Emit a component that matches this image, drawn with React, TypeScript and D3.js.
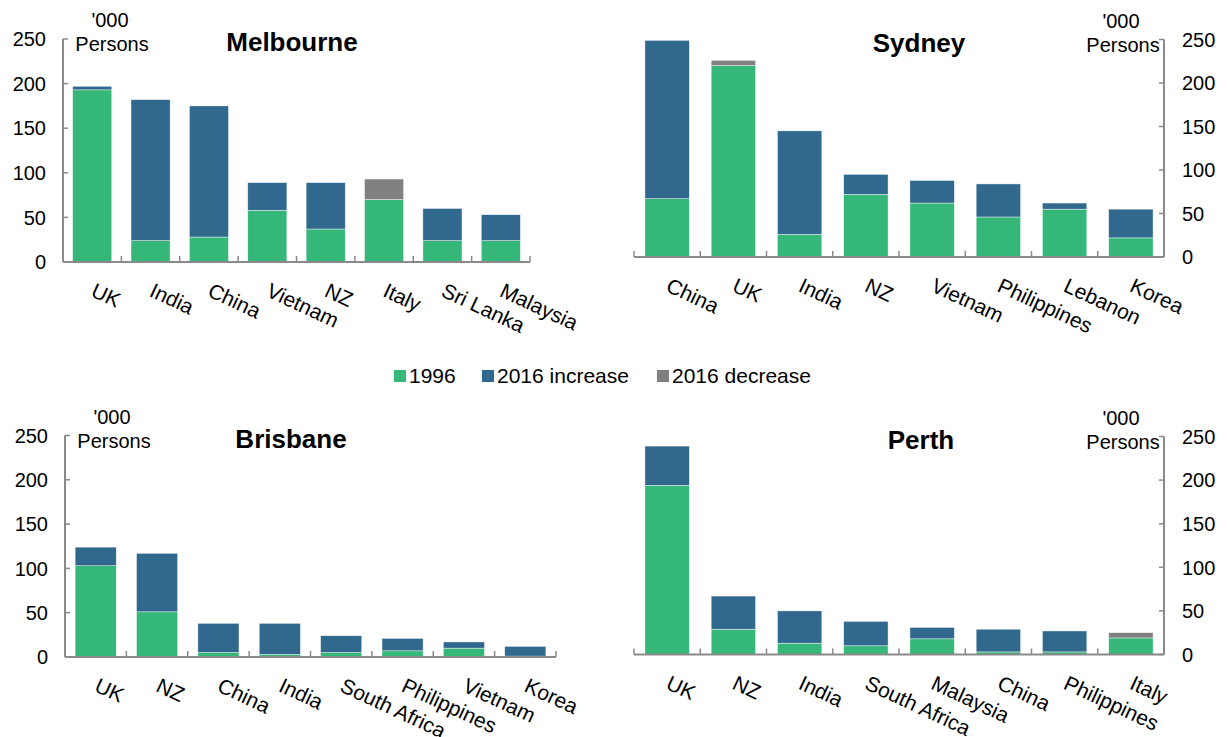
import React from "react";
import * as d3 from "d3";

const melbourneCountries = ["UK", "India", "China", "Vietnam", "NZ", "Italy", "Sri Lanka", "Malaysia"];
const melbourne1996 = [193, 24, 28, 58, 37, 93, 24, 24];
const melbourne2016 = [197, 182, 175, 89, 89, 70, 60, 53];

const sydneyCountries = ["China", "UK", "India", "NZ", "Vietnam", "Philippines", "Lebanon", "Korea"];
const sydney1996 = [67, 226, 26, 72, 62, 46, 55, 22];
const sydney2016 = [249, 220, 145, 95, 88, 84, 62, 55];

const brisbaneCountries = ["UK", "NZ", "China", "India", "South Africa", "Philippines", "Vietnam", "Korea"];
const brisbane1996 = [103, 51, 5, 3, 5, 7, 10, 1];
const brisbane2016 = [124, 117, 38, 38, 24, 21, 17, 12];

const perthCountries = ["UK", "NZ", "India", "South Africa", "Malaysia", "China", "Philippines", "Italy"];
const perth1996 = [194, 29, 13, 10, 18, 3, 3, 25];
const perth2016 = [239, 67, 50, 38, 31, 29, 27, 19];

const yTicks = [0, 50, 100, 150, 200, 250];
const legendItems = ["1996", "2016 increase", "2016 decrease"];

const GREEN = "#35b779";
const BLUE = "#31688e";
const GRAY = "#808080";
const AXIS = "#8a8a8a";
const FONT = "'Liberation Sans', Arial, sans-serif";

type PanelProps = {
  title: string;
  titleX: number;
  countries: string[];
  v1996: number[];
  v2016: number[];
  x0: number;
  x1: number;
  yZero: number;
  yTop: number;
  side: "left" | "right";
};

function Panel({ title, titleX, countries, v1996, v2016, x0, x1, yZero, yTop, side }: PanelProps) {
  const x = d3.scaleBand<string>().domain(countries).range([x0, x1]).paddingInner(0.33).paddingOuter(0.165);
  const y = d3.scaleLinear().domain([0, 250]).range([yZero, yTop]);
  const step = x.step();
  const axisX = side === "left" ? x0 : x1;
  const tickDir = side === "left" ? 5 : -5;
  const unitX = side === "left" ? x0 + 49 : x1 - 41;
  return (
    <g>
      {countries.map((c, i) => {
        const a = v1996[i];
        const b = v2016[i];
        const base = Math.min(a, b);
        const inc = Math.max(0, b - a);
        const dec = Math.max(0, a - b);
        const bx = x(c) as number;
        const bw = x.bandwidth();
        return (
          <g key={c}>
            <rect x={bx} y={y(base)} width={bw} height={y(0) - y(base)} fill={GREEN} stroke="#ffffff" strokeWidth={0.6} strokeOpacity={0.7} />
            {inc > 0 && (
              <rect x={bx} y={y(base + inc)} width={bw} height={y(base) - y(base + inc)} fill={BLUE} stroke="#ffffff" strokeWidth={0.6} strokeOpacity={0.7} />
            )}
            {dec > 0 && (
              <rect x={bx} y={y(base + dec)} width={bw} height={y(base) - y(base + dec)} fill={GRAY} stroke="#ffffff" strokeWidth={0.6} strokeOpacity={0.7} />
            )}
          </g>
        );
      })}
      <line x1={x0} x2={x1} y1={yZero} y2={yZero} stroke={AXIS} strokeWidth={2} />
      {d3.range(countries.length + 1).map((i) => (
        <line key={i} x1={x0 + i * step} x2={x0 + i * step} y1={yZero} y2={yZero - 6} stroke={AXIS} strokeWidth={1.5} />
      ))}
      <line x1={axisX} x2={axisX} y1={yZero} y2={y(250)} stroke={AXIS} strokeWidth={2} />
      {yTicks.map((t) => (
        <g key={t}>
          <line x1={axisX} x2={axisX + tickDir} y1={y(t)} y2={y(t)} stroke={AXIS} strokeWidth={1.5} />
          <text
            x={side === "left" ? axisX - 17 : axisX + 18}
            y={y(t)}
            dy="0.36em"
            textAnchor={side === "left" ? "end" : "start"}
            fontSize={20}
            fontFamily={FONT}
            fill="#000"
          >
            {t}
          </text>
        </g>
      ))}
      {countries.map((c) => {
        const cx = (x(c) as number) + x.bandwidth() / 2;
        return (
          <text
            key={c}
            transform={`translate(${cx + 4},${yZero + 20}) rotate(25)`}
            dy="0.72em"
            fontSize={21}
            fontFamily={FONT}
            fill="#000"
          >
            {c}
          </text>
        );
      })}
      <text x={unitX - 2} y={yTop - 12} textAnchor="middle" fontSize={20} fontFamily={FONT} fill="#000">
        '000
      </text>
      <text x={unitX} y={yTop + 12} textAnchor="middle" fontSize={20} fontFamily={FONT} fill="#000">
        Persons
      </text>
      <text x={titleX} y={yTop + 12} textAnchor="middle" fontSize={26} fontWeight="bold" fontFamily={FONT} fill="#000">
        {title}
      </text>
    </g>
  );
}

export default function App() {
  const legendColors = [GREEN, BLUE, GRAY];
  const legendX = [394, 482, 657];
  return (
    <svg
      width={1227}
      height={737}
      style={{ position: "absolute", left: 0, top: 0, background: "#fff" }}
    >
      <Panel title="Melbourne" titleX={292} countries={melbourneCountries} v1996={melbourne1996} v2016={melbourne2016}
        x0={63} x1={530} yZero={262} yTop={39} side="left" />
      <Panel title="Sydney" titleX={919} countries={sydneyCountries} v1996={sydney1996} v2016={sydney2016}
        x0={634} x1={1164} yZero={257} yTop={39.5} side="right" />
      <Panel title="Brisbane" titleX={291} countries={brisbaneCountries} v1996={brisbane1996} v2016={brisbane2016}
        x0={65} x1={556} yZero={657} yTop={435.5} side="left" />
      <Panel title="Perth" titleX={921} countries={perthCountries} v1996={perth1996} v2016={perth2016}
        x0={634} x1={1164} yZero={654.5} yTop={436.5} side="right" />
      {legendItems.map((l, i) => (
        <g key={l}>
          <rect x={legendX[i]} y={370} width={12} height={12} fill={legendColors[i]} />
          <text x={legendX[i] + 15} y={383} fontSize={21} fontFamily={FONT} fill="#000">
            {l}
          </text>
        </g>
      ))}
    </svg>
  );
}
